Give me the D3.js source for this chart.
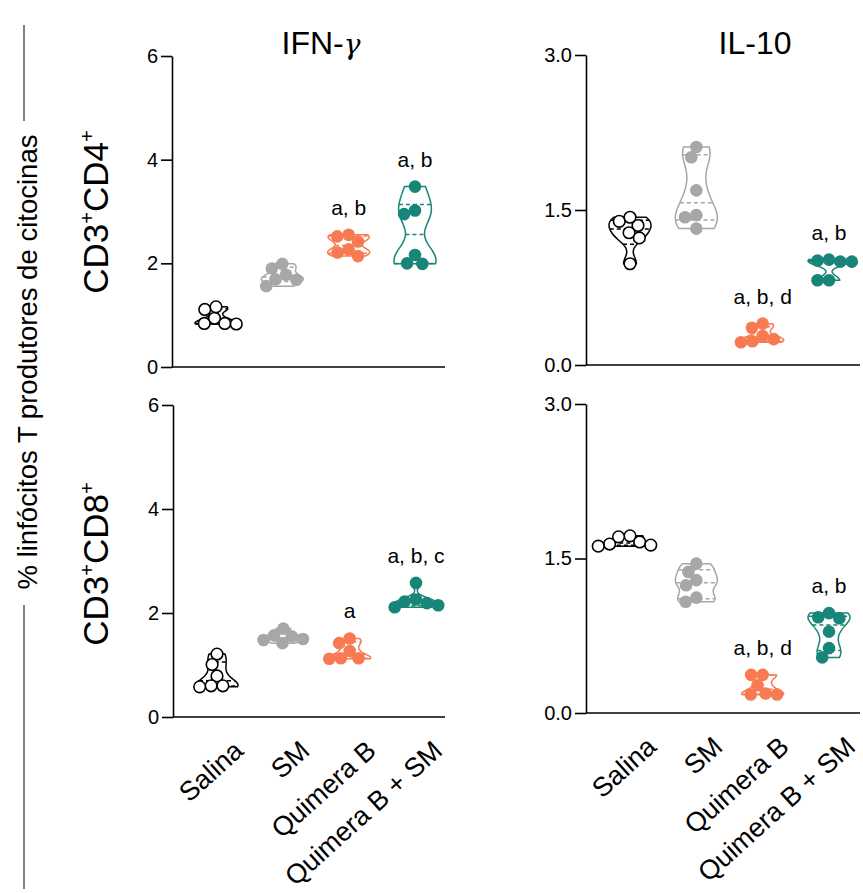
<!DOCTYPE html>
<html>
<head>
<meta charset="utf-8">
<script src="https://cdn.jsdelivr.net/npm/d3@7"></script>
<style>
  body { margin: 0; background: #fff; }
  text { font-family: "Liberation Sans", Arial, sans-serif; fill: #000; }
</style>
</head>
<body>
<div id="chart"></div>
<script>
const width = 863;
const height = 893;

const groups = ["Salina", "SM", "Quimera B", "Quimera B + SM"];
const groupColors = ["#000000", "#a7a7a9", "#f87a53", "#178577"];

// values, one array per group
const ifnCD4 = [
  [0.94, 1.11, 1.16, 0.84, 0.84, 0.83],
  [1.78, 1.90, 1.99, 1.69, 1.68, 1.56],
  [2.42, 2.52, 2.55, 2.27, 2.21, 2.14],
  [3.48, 3.02, 2.95, 2.16, 2.00, 1.99]
];
const il10CD4 = [
  [1.35, 1.39, 1.43, 1.28, 1.23, 0.98],
  [2.11, 2.01, 1.69, 1.45, 1.43, 1.32],
  [0.40, 0.36, 0.28, 0.25, 0.23, 0.22],
  [1.01, 1.00, 1.00, 1.02, 0.82, 0.82]
];
const ifnCD8 = [
  [1.21, 1.01, 0.79, 0.60, 0.60, 0.58],
  [1.70, 1.57, 1.55, 1.50, 1.48, 1.42],
  [1.51, 1.42, 1.27, 1.13, 1.13, 1.12],
  [2.58, 2.26, 2.22, 2.19, 2.15, 2.11]
];
const il10CD8 = [
  [1.72, 1.71, 1.66, 1.64, 1.63, 1.62],
  [1.45, 1.37, 1.29, 1.24, 1.12, 1.08],
  [0.37, 0.37, 0.27, 0.19, 0.18, 0.18],
  [0.97, 0.93, 0.92, 0.79, 0.63, 0.54]
];

const ifnCD4Marks = ["", "", "a, b", "a, b"];
const il10CD4Marks = ["", "", "a, b, d", "a, b"];
const ifnCD8Marks = ["", "", "a", "a, b, c"];
const il10CD8Marks = ["", "", "a, b, d", "a, b"];

const ifnTicks = [0, 2, 4, 6];
const il10Ticks = [0, 1.5, 3];

const svg = d3.select("#chart").append("svg")
  .attr("width", width)
  .attr("height", height);

const panels = [
  { data: ifnCD4, marks: ifnCD4Marks, ticks: ifnTicks, fmt: d3.format("d"), x0: 172, x1: 445, top: 56, bottom: 367, xLabels: false },
  { data: il10CD4, marks: il10CD4Marks, ticks: il10Ticks, fmt: d3.format(".1f"), x0: 586, x1: 860, top: 55, bottom: 365, xLabels: false },
  { data: ifnCD8, marks: ifnCD8Marks, ticks: ifnTicks, fmt: d3.format("d"), x0: 173, x1: 445, top: 405, bottom: 717, xLabels: true },
  { data: il10CD8, marks: il10CD8Marks, ticks: il10Ticks, fmt: d3.format(".1f"), x0: 586, x1: 860, top: 404, bottom: 713, xLabels: true }
];

// quartile the way Prism does it: position (n + 1) * p
function quart(sorted, p) {
  const pos = (sorted.length + 1) * p - 1;
  const lo = Math.max(0, Math.floor(pos));
  const hi = Math.min(sorted.length - 1, lo + 1);
  return sorted[lo] + (sorted[hi] - sorted[lo]) * (pos - lo);
}

// simple beeswarm: each point goes as close to the centre as it can
function swarm(values, y, d) {
  const placed = [];
  const offsets = new Array(values.length);
  const order = d3.range(values.length).sort((a, b) => values[b] - values[a]);
  order.forEach((i) => {
    const py = y(values[i]);
    const cands = [0];
    placed.forEach((p) => {
      const dy = py - p.y;
      if (Math.abs(dy) < d) {
        const dx = Math.sqrt(d * d - dy * dy);
        cands.push(p.x + dx, p.x - dx);
      }
    });
    cands.sort((a, b) => Math.abs(a) - Math.abs(b) || a - b);
    const x = cands.find((c) =>
      placed.every((p) => (c - p.x) ** 2 + (py - p.y) ** 2 >= d * d - 0.01)
    );
    placed.push({ x: x, y: py });
    offsets[i] = x;
  });
  return offsets;
}

panels.forEach((pn) => {
  const y = d3.scaleLinear().domain([0, pn.ticks[pn.ticks.length - 1]]).range([pn.bottom, pn.top]);
  const x = d3.scalePoint().domain(groups).range([pn.x0 + 44, pn.x0 + 243]);
  const g = svg.append("g");

  // y axis
  const yAxis = d3.axisLeft(y).tickValues(pn.ticks).tickFormat(pn.fmt).tickSize(11).tickSizeOuter(0).tickPadding(3);
  const ya = g.append("g").attr("transform", `translate(${pn.x0},0)`).call(yAxis);
  ya.attr("font-size", null).attr("font-family", null);
  ya.selectAll("path, line").attr("stroke", "#000").attr("stroke-width", 1.6);
  ya.selectAll("text").style("font-size", "20px").attr("fill", "#000");

  // x axis line
  g.append("line")
    .attr("x1", pn.x0).attr("x2", pn.x1)
    .attr("y1", y(0)).attr("y2", y(0))
    .attr("stroke", "#000").attr("stroke-width", 1.6);

  pn.data.forEach((vals, gi) => {
    const cx = x(groups[gi]);
    const col = groupColors[gi];
    const sorted = vals.slice().sort(d3.ascending);
    const lo = sorted[0], hi = sorted[sorted.length - 1];
    const bw = Math.max(0.45 * d3.deviation(vals), 0.01);
    const kde = (v) => d3.mean(vals, (d) => Math.exp(-0.5 * ((v - d) / bw) ** 2));
    const pts = d3.range(0, 61).map((k) => lo + (hi - lo) * k / 60);
    const dens = pts.map(kde);
    const dmax = d3.max(dens);
    const w = d3.scaleLinear().domain([0, dmax]).range([0, 21]);
    const halfW = (v) => w(kde(v));

    // violin
    g.append("path")
      .datum(pts)
      .attr("d", d3.area()
        .y((v) => y(v))
        .x0((v) => cx - halfW(v))
        .x1((v) => cx + halfW(v))
        .curve(d3.curveCatmullRom))
      .attr("fill", "none")
      .attr("stroke", col)
      .attr("stroke-width", 1.5);

    // median + quartiles
    g.selectAll(null)
      .data([0.25, 0.5, 0.75].map((p) => quart(sorted, p)))
      .join("line")
      .attr("x1", (q) => cx - halfW(q))
      .attr("x2", (q) => cx + halfW(q))
      .attr("y1", (q) => y(q))
      .attr("y2", (q) => y(q))
      .attr("stroke", col)
      .attr("stroke-width", 1.5)
      .attr("stroke-dasharray", "4,3");

    // points
    const offs = swarm(vals, y, 11.5);
    g.selectAll(null)
      .data(vals)
      .join("circle")
      .attr("cx", (v, i) => cx + offs[i])
      .attr("cy", (v) => y(v))
      .attr("r", gi === 0 ? 5.8 : 6.3)
      .attr("fill", gi === 0 ? "#fff" : col)
      .attr("stroke", gi === 0 ? "#000" : "none")
      .attr("stroke-width", 1.6);

    // significance letters
    if (pn.marks[gi]) {
      g.append("text")
        .attr("x", cx)
        .attr("y", y(hi) - 20)
        .attr("text-anchor", "middle")
        .attr("font-size", 21)
        .text(pn.marks[gi]);
    }
  });

  if (pn.xLabels) {
    g.selectAll(null)
      .data(groups)
      .join("text")
      .attr("transform", (d) => `translate(${x(d) + 28},${y(0) + 36}) rotate(-42)`)
      .attr("text-anchor", "end")
      .attr("font-size", 27)
      .text((d) => d);
  }
});

// column titles
const t1 = svg.append("text").attr("x", 321).attr("y", 54).attr("text-anchor", "middle").attr("font-size", 32);
t1.append("tspan").text("IFN-");
t1.append("tspan").attr("font-family", "DejaVu Serif, serif").attr("font-style", "italic").attr("font-size", 28).text("γ");
svg.append("text").attr("x", 755).attr("y", 54).attr("text-anchor", "middle").attr("font-size", 32).text("IL-10");

// row labels
function rowLabel(cy, last) {
  const t = svg.append("text")
    .attr("transform", `translate(108,${cy}) rotate(-90)`)
    .attr("text-anchor", "middle")
    .attr("font-size", 35);
  t.append("tspan").text("CD3");
  t.append("tspan").attr("font-size", 20).attr("dy", -14).text("+");
  t.append("tspan").attr("dy", 14).text("CD" + last);
  t.append("tspan").attr("font-size", 20).attr("dy", -14).text("+");
}
rowLabel(212, "4");
rowLabel(564, "8");

// shared y label with bracket lines
svg.append("text")
  .attr("transform", "translate(37,362) rotate(-90)")
  .attr("text-anchor", "middle")
  .attr("font-size", 28)
  .attr("textLength", 455)
  .attr("lengthAdjust", "spacingAndGlyphs")
  .text("% linfócitos T produtores de citocinas");
svg.append("line").attr("x1", 24).attr("x2", 24).attr("y1", 25).attr("y2", 121)
  .attr("stroke", "#555").attr("stroke-width", 1.5);
svg.append("line").attr("x1", 24).attr("x2", 24).attr("y1", 605).attr("y2", 889)
  .attr("stroke", "#555").attr("stroke-width", 1.5);
</script>
</body>
</html>
